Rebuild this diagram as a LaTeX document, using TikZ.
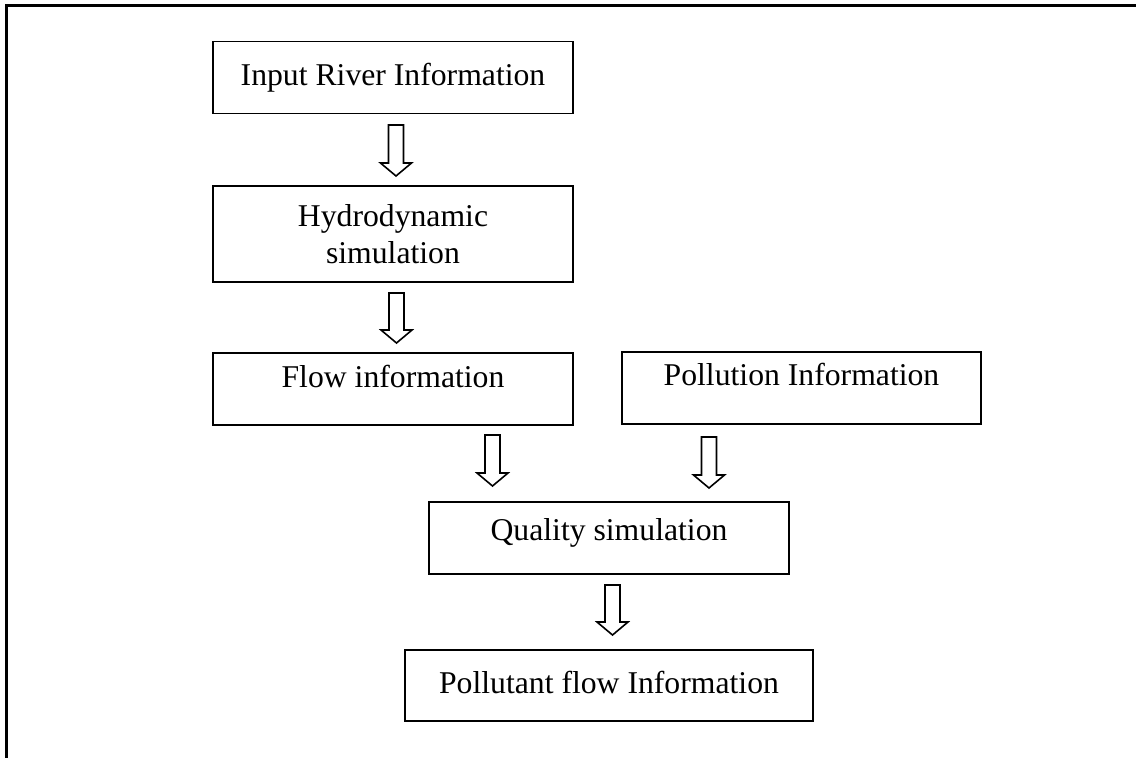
\documentclass[tikz,border=0pt]{standalone}
\usepackage{fontspec}
\setmainfont{Liberation Serif}
\usetikzlibrary{calc}

\newcommand{\hollowarrow}[2]{%
  \draw[hollow] let \p1=(#1), \p2=(#2) in
    (\x1-7.5pt,\y1) -- (\x1-7.5pt,\y2+13pt) -- (\x1-15.5pt,\y2+13pt) -- (\x1,\y2)
    -- (\x1+15.5pt,\y2+13pt) -- (\x1+7.5pt,\y2+13pt) -- (\x1+7.5pt,\y1) -- cycle;}

\begin{document}
\begin{tikzpicture}[x=1pt,y=-1pt,
  box/.style={draw, line width=1.8pt, minimum width=360pt, minimum height=72pt,
    inner sep=0pt, align=center, font=\fontsize{31.7}{37}\selectfont},
  lift/.style={text depth=#1},
  hollow/.style={draw, line width=1.6pt, line join=miter, fill=white}]
\useasboundingbox (0,0) rectangle (1136,758);
\draw[line width=2.5pt] (6.7,760) -- (6.7,5.5) -- (1138,5.5);

\node[box] (input) at (393,77.5) {Input River Information};
\node[box, minimum height=96pt] (hydro) at (393,234) {Hydrodynamic\\simulation};
\node[box, lift=26pt] (flow) at (393,389) {Flow information};
\node[box, lift=27pt, minimum width=359pt] (pollution) at (801.5,388) {Pollution Information};
\node[box, lift=17pt] (quality) at (609,538) {Quality simulation};
\node[box, lift=6pt, minimum width=408pt, minimum height=71pt] (pollutant) at (609,685.5) {Pollutant flow Information};

\coordinate (a1) at (396,125);   \coordinate (b1) at (396,176);
\coordinate (a2) at (396.5,293); \coordinate (b2) at (396.5,343);
\coordinate (a3) at (492.5,435); \coordinate (b3) at (492.5,486);
\coordinate (a4) at (709,437);   \coordinate (b4) at (709,488);
\coordinate (a5) at (612.5,585); \coordinate (b5) at (612.5,635);

\foreach \i in {1,...,5} {
  \hollowarrow{a\i}{b\i}
}
\end{tikzpicture}
\end{document}
